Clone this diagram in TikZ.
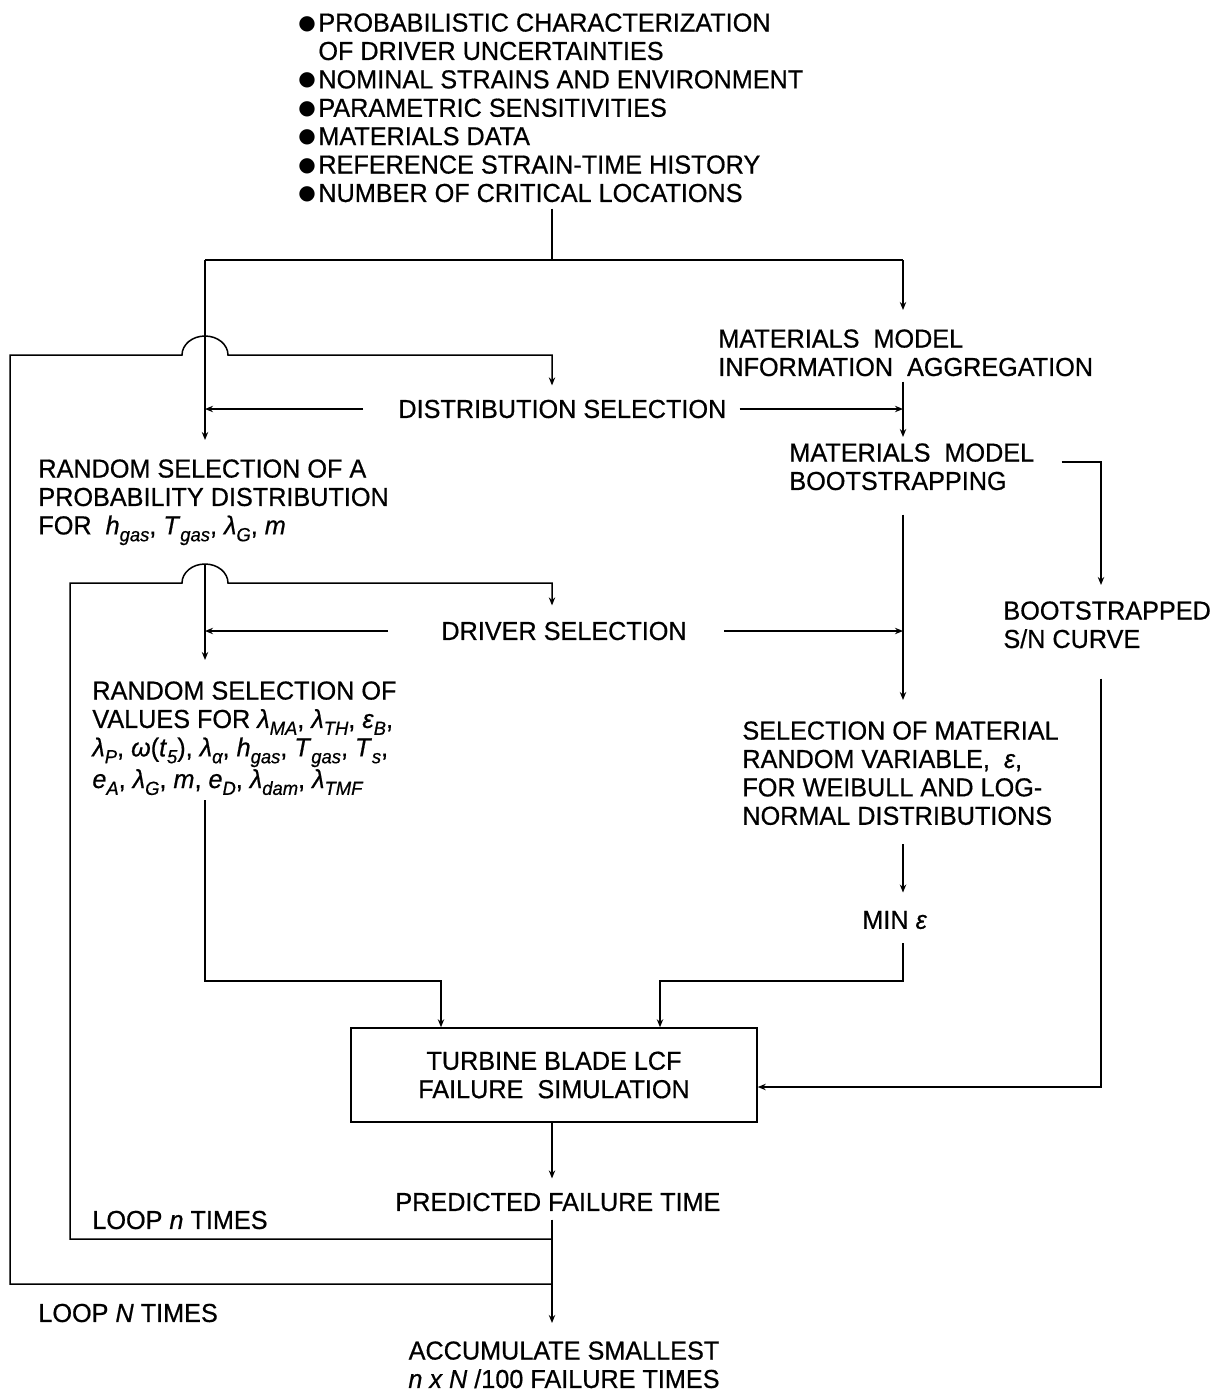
\documentclass[tikz,border=0pt]{standalone}
\usepackage{fontspec}
\setmainfont[FakeStretch=0.97,FakeBold=0.6]{Liberation Sans}
\newfontfamily\dejavu{DejaVu Sans}
\usetikzlibrary{arrows.meta,calc}
\newcommand\sbs[1]{\raisebox{-0.5ex}{\fontsize{9.5}{9.5}\selectfont\itshape #1}}
\newcommand\bul{\makebox[10pt][l]{\raisebox{1.2pt}{\dejavu\fontsize{10}{10}\selectfont ●}}}
\tikzset{
  lbl/.style={inner sep=0pt, font=\fontsize{13}{14.2}\selectfont, align=left},
  conn/.style={line width=0.75pt},
  arr/.style={conn, -{Stealth[length=4pt,width=3.2pt]}},
  simbox/.style={draw, line width=0.75pt, minimum width=203pt, minimum height=47pt,
    align=center, inner sep=0pt, font=\fontsize{13}{14.2}\selectfont}
}
\begin{document}
\begin{tikzpicture}[x=0.5pt,y=-0.5pt]
\useasboundingbox (0,0) rectangle (1226,1392);

% ---- nodes
\node[lbl,anchor=north west] (inputs) at (298,13)
  {\bul PROBABILISTIC CHARACTERIZATION\\
   \hspace*{10pt}OF DRIVER UNCERTAINTIES\\
   \bul NOMINAL STRAINS AND ENVIRONMENT\\
   \bul PARAMETRIC SENSITIVITIES\\
   \bul MATERIALS DATA\\
   \bul REFERENCE STRAIN-TIME HISTORY\\
   \bul NUMBER OF CRITICAL LOCATIONS};
\node[lbl,anchor=north west] (matagg) at (718,329)
  {MATERIALS\ \ MODEL\\INFORMATION\ \ AGGREGATION};
\node[lbl,anchor=west] (distsel) at (398,409) {DISTRIBUTION SELECTION};
\node[lbl,anchor=north west] (randdist) at (38,459)
  {RANDOM SELECTION OF A\\PROBABILITY DISTRIBUTION\\
   FOR\ \ \textit{h}\sbs{gas}, \textit{T}\sbs{gas}, \textit{λ}\sbs{G}, \textit{m}};
\node[lbl,anchor=north west] (matboot) at (789,443)
  {MATERIALS\ \ MODEL\\BOOTSTRAPPING};
\node[lbl,anchor=north west] (bootsn) at (1003,601)
  {BOOTSTRAPPED\\S/N CURVE};
\node[lbl,anchor=west] (drvsel) at (441,631) {DRIVER SELECTION};
\node[lbl,anchor=north west] (randval) at (92,681)
  {RANDOM SELECTION OF\\
   VALUES FOR \textit{λ}\sbs{MA}, \textit{λ}\sbs{TH}, \textit{ε}\sbs{B},\\
   \textit{λ}\sbs{P}, \textit{ω}(\textit{t}\sbs{5}), \textit{λ}\sbs{α}, \textit{h}\sbs{gas}, \textit{T}\sbs{gas}, \textit{T}\sbs{s},\\
   \textit{e}\sbs{A}, \textit{λ}\sbs{G}, \textit{m}, \textit{e}\sbs{D}, \textit{λ}\sbs{dam}, \textit{λ}\sbs{TMF}};
\node[lbl,anchor=north west] (selmat) at (742,721)
  {SELECTION OF MATERIAL\\RANDOM VARIABLE,\ \ \textit{ε},\\
   FOR WEIBULL AND LOG-\\NORMAL DISTRIBUTIONS};
\node[lbl,anchor=west] (mineps) at (862,920) {MIN \textit{ε}};
\node[simbox] (sim) at (554,1075) {TURBINE BLADE LCF\\FAILURE\ \ SIMULATION};
\node[lbl,anchor=west] (pft) at (395,1202) {PREDICTED FAILURE TIME};
\node[lbl,anchor=west] (loopn) at (92,1220) {LOOP \textit{n} TIMES};
\node[lbl,anchor=west] (loopN) at (38,1313) {LOOP \textit{N} TIMES};
\node[lbl,anchor=north,align=center] (accum) at (564,1341)
  {ACCUMULATE SMALLEST\\\textit{n x N} /100 FAILURE TIMES};

% ---- coordinates
\coordinate (jtop) at (552,260);
\coordinate (tl) at (205,260);
\coordinate (tr) at (903,260);
\coordinate (cr) at (1101,0);
\coordinate (jn) at (552,1239);
\coordinate (jN) at (552,1284);
\coordinate (lN) at (10,1284);
\coordinate (ln) at (70,1239);
\coordinate (hopA) at (182,355);
\coordinate (hopB) at (182,583);
\coordinate (rvb) at (205,800);
\coordinate (inL) at (441,981);
\coordinate (inR) at (660,981);

% ---- connectors
\draw[conn] ($(inputs.south -| jtop)+(0,6)$) -- (jtop);
\draw[conn] (tl) -- (tr);
\draw[arr] (tr) -- ($(matagg.north -| tr)+(0,-19)$);
\draw[arr] (tl) -- ($(randdist.north -| tl)+(0,-19)$);
\draw[arr] (jN) -- (lN) -- (lN |- hopA) -- (hopA)
  arc[start angle=180,end angle=360,x radius=23,y radius=19]
  -- (hopA -| jtop) -- ($(distsel.north -| jtop)+(0,-14)$);
\draw[arr] ($(distsel.west)+(-35,0)$) -- (distsel.west -| tl);
\draw[arr] ($(distsel.east)+(13,0)$) -- (distsel.east -| tr);
\draw[arr] ($(matagg.south -| tr)+(0,5)$) -- ($(matboot.north -| tr)+(0,-6)$);
\draw[arr] ($(matboot.north east)+(27,19)$) -| ($(bootsn.north -| cr)+(0,-16)$);
\draw[arr] ($(bootsn.south -| cr)+(0,30)$) |- ($(sim.east)+(0,12)$);
\draw[arr] ($(matboot.south -| tr)+(0,24)$) -- ($(selmat.north -| tr)+(0,-21)$);
\draw[arr] ($(drvsel.east)+(37,0)$) -- (drvsel.east -| tr);
\draw[arr] ($(drvsel.west)+(-53,0)$) -- (drvsel.west -| tl);
\draw[arr] (jn) -- (ln) -- (ln |- hopB) -- (hopB)
  arc[start angle=180,end angle=360,x radius=23,y radius=19]
  -- (hopB -| jtop) -- ($(drvsel.north -| jtop)+(0,-16)$);
\draw[arr] (205,564) -- ($(randval.north -| tl)+(0,-21)$);
\draw[arr] (rvb) |- (inL) -- (inL |- sim.north);
\draw[arr] ($(selmat.south -| tr)+(0,19)$) -- ($(mineps.north -| tr)+(0,-18)$);
\draw[arr] ($(mineps.south -| tr)+(0,14)$) |- (inR) -- (inR |- sim.north);
\draw[arr] (sim.south -| jtop) -- ($(pft.north -| jtop)+(0,-14)$);
\draw[arr] ($(pft.south -| jtop)+(0,8)$) -- ($(accum.north -| jtop)+(0,-18)$);
\end{tikzpicture}
\end{document}
